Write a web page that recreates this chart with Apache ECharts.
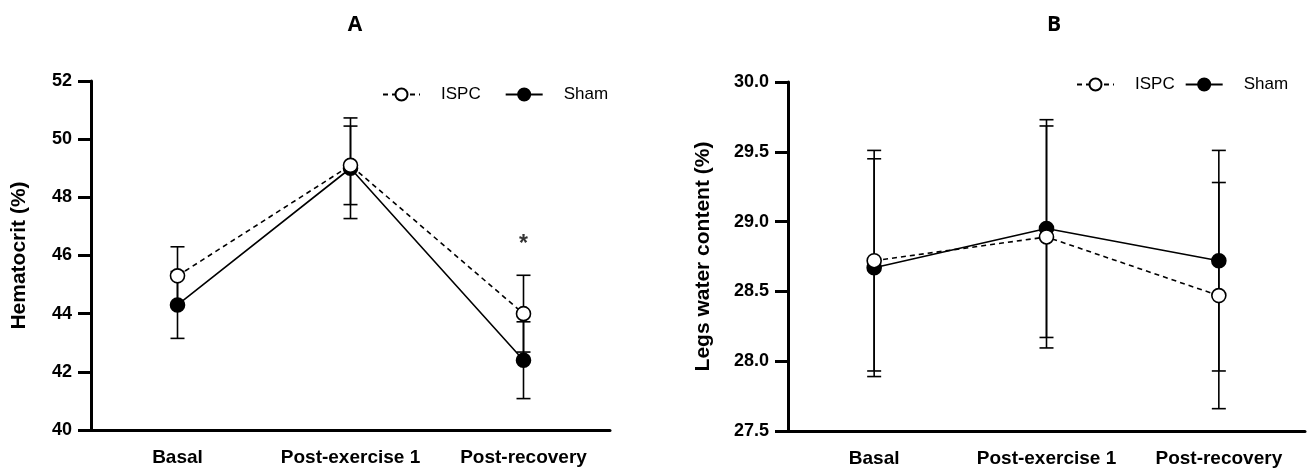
<!DOCTYPE html>
<html>
<head>
<meta charset="utf-8">
<script src="https://cdn.jsdelivr.net/npm/echarts@6/dist/echarts.min.js"></script>
<style>
html,body{margin:0;padding:0;background:#fff;}
#chart{width:1307px;height:469px;}
</style>
</head>
<body>
<div id="chart"></div>
<script>
const categories = ['Basal', 'Post-exercise 1', 'Post-recovery'];
const panelTitles = ['A', 'B'];
const yNames = ['Hematocrit (%)', 'Legs water content (%)'];

// Panel A: Hematocrit (%)
const hctISPC = [45.3, 49.1, 44.0];
const hctISPCErr = [1.0, 1.35, 1.32];
const hctSham = [44.3, 49.0, 42.4];
const hctShamErr = [1.15, 1.73, 1.32];
const hctStar = ['Post-recovery', 46.55];

// Panel B: Legs water content (%)
const legISPC = [28.72, 28.89, 28.47];
const legISPCErr = [0.79, 0.795, 0.81];
const legSham = [28.67, 28.95, 28.72];
const legShamErr = [0.78, 0.78, 0.79];

const FONT = 'Liberation Sans, Arial, sans-serif';
const TITLE_FONT = 'Open Sans, Liberation Sans, sans-serif';

function errData(vals, errs) {
  return vals.map((v, i) => [i, v, errs[i]]);
}

function errSeries(vals, errs, gi, z) {
  return {
    type: 'custom',
    xAxisIndex: gi, yAxisIndex: gi,
    z: z,
    silent: true,
    data: errData(vals, errs),
    encode: { x: 0, y: 1 },
    renderItem: function (params, api) {
      const x = api.value(0), y = api.value(1), e = api.value(2);
      const top = api.coord([x, y + e]);
      const bot = api.coord([x, y - e]);
      const hw = 7;
      const st = { stroke: '#000', lineWidth: 1.6 };
      return {
        type: 'group',
        children: [
          { type: 'line', shape: { x1: top[0], y1: top[1], x2: bot[0], y2: bot[1] }, style: st },
          { type: 'line', shape: { x1: top[0] - hw, y1: top[1], x2: top[0] + hw, y2: top[1] }, style: st },
          { type: 'line', shape: { x1: bot[0] - hw, y1: bot[1], x2: bot[0] + hw, y2: bot[1] }, style: st }
        ]
      };
    }
  };
}

function lineSeries(name, vals, gi, dashed, z) {
  return {
    name: name,
    type: 'line',
    xAxisIndex: gi, yAxisIndex: gi,
    z: z,
    data: vals,
    symbol: 'circle',
    symbolSize: 14,
    showAllSymbol: true,
    lineStyle: { color: '#000', width: 1.6, type: dashed ? [5, 4] : 'solid' },
    itemStyle: { color: dashed ? '#fff' : '#000', borderColor: '#000', borderWidth: 1.6 },
    emphasis: { disabled: true },
    animation: false
  };
}

function xAxis(gi) {
  return {
    type: 'category', gridIndex: gi, data: categories, boundaryGap: true,
    axisLine: { lineStyle: { color: '#000', width: 3 } },
    axisTick: { alignWithLabel: true, length: 12, lineStyle: { color: '#000', width: 3 } },
    axisLabel: { interval: 0, hideOverlap: false, color: '#000', fontFamily: FONT, fontWeight: 'bold', fontSize: 19, margin: 18 },
    splitLine: { show: false }
  };
}

function yAxis(gi, min, max, interval, dec, name) {
  return {
    type: 'value', gridIndex: gi, min: min, max: max, interval: interval,
    name: name, nameLocation: 'middle', nameGap: gi === 0 ? 61 : 74, nameRotate: 90,
    nameTextStyle: { color: '#000', fontFamily: FONT, fontWeight: 'bold', fontSize: 21 },
    axisLine: { show: true, lineStyle: { color: '#000', width: 3 } },
    axisTick: { show: true, length: 13, lineStyle: { color: '#000', width: 3 } },
    axisLabel: { color: '#000', fontFamily: FONT, fontWeight: 'bold', fontSize: 18, margin: 19,
      formatter: v => v.toFixed(dec) },
    splitLine: { show: false }
  };
}

function legend(left, top, gap) {
  return {
    left: left, top: top, orient: 'horizontal', padding: 0, width: 240,
    data: ['ISPC', 'Sham'],
    itemWidth: 37, itemHeight: 15, itemGap: gap,
    selectedMode: false,
    textStyle: { color: '#000', fontFamily: FONT, fontSize: 17, padding: [0, 0, 0, 16] }
  };
}

const option = {
  animation: false,
  backgroundColor: '#fff',
  title: [
    { text: panelTitles[0], left: 350, top: 10, textAlign: 'center', textStyle: { fontFamily: TITLE_FONT, fontWeight: 'bold', fontSize: 21, color: '#000' } },
    { text: panelTitles[1], left: 1049, top: 10, textAlign: 'center', textStyle: { fontFamily: TITLE_FONT, fontWeight: 'bold', fontSize: 21, color: '#000' } }
  ],
  legend: [legend(382, 86, 24), legend(1076, 76, 10)],
  grid: [
    { left: 91, top: 81, width: 519, height: 349, containLabel: false },
    { left: 788, top: 82, width: 517, height: 349, containLabel: false }
  ],
  xAxis: [xAxis(0), xAxis(1)],
  yAxis: [
    yAxis(0, 40, 52, 2, 0, yNames[0]),
    yAxis(1, 27.5, 30, 0.5, 1, yNames[1])
  ],
  series: [
    errSeries(hctSham, hctShamErr, 0, 1),
    errSeries(hctISPC, hctISPCErr, 0, 1),
    lineSeries('Sham', hctSham, 0, false, 3),
    lineSeries('ISPC', hctISPC, 0, true, 4),
    {
      type: 'scatter', xAxisIndex: 0, yAxisIndex: 0, silent: true,
      data: [hctStar], symbolSize: 1, itemStyle: { color: 'rgba(0,0,0,0)' },
      label: { show: true, position: 'inside', formatter: '*', color: '#000', fontFamily: FONT, fontWeight: 'bold', fontSize: 23, offset: [0, 5] }
    },
    errSeries(legSham, legShamErr, 1, 1),
    errSeries(legISPC, legISPCErr, 1, 1),
    lineSeries('Sham', legSham, 1, false, 3),
    lineSeries('ISPC', legISPC, 1, true, 4)
  ]
};

const chart = echarts.init(document.getElementById('chart'), null, { renderer: 'canvas' });
chart.setOption(option);
</script>
</body>
</html>
